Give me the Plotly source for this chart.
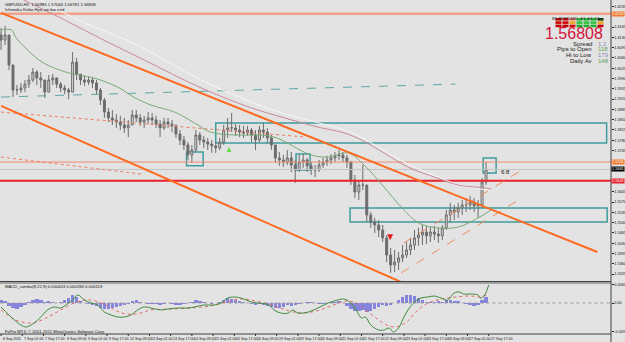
import plotly.graph_objects as go

# ---------------- data ----------------
bar_hours = [3 * k for k in range(123)]
first_open = 1.6138
highs = [1.6162,1.6169,1.6138,1.6036,1.5968,1.5975,1.5985,1.6002,1.6026,1.6019,1.6012,1.5985,1.6002,1.6005,1.5992,1.5978,1.5968,1.5958,1.6080,1.6060,
         1.6005,1.5999,1.5995,1.5992,1.5985,1.5958,1.5924,1.5890,1.5883,1.5869,1.5863,1.5856,1.5849,1.5883,1.5883,1.5869,1.5863,1.5876,1.5873,1.5863,
         1.5849,1.5856,1.5856,1.5849,1.5835,1.5815,1.5795,1.5774,1.5764,1.5815,1.5808,1.5795,1.5788,1.5781,1.5774,1.5788,1.5832,1.5856,1.5873,1.5835,
         1.5832,1.5829,1.5829,1.5822,1.5815,1.5829,1.5839,1.5822,1.5798,1.5764,1.5740,1.5730,1.5747,1.5740,1.5713,1.5730,1.5733,1.5720,1.5706,1.5696,
         1.5713,1.5720,1.5727,1.5733,1.5740,1.5747,1.5740,1.5730,1.5710,1.5662,1.5645,1.5696,1.5628,1.5536,1.5516,1.5509,1.5492,1.5458,1.5414,1.5407,
         1.5400,1.5424,1.5434,1.5448,1.5475,1.5482,1.5492,1.5489,1.5485,1.5489,1.5482,1.5492,1.5543,1.5567,1.5560,1.5567,1.5577,1.5584,1.5591,1.5584,
         1.5577,1.5652,1.5706]
lows = [1.6087,1.6104,1.6019,1.5927,1.5934,1.5941,1.5944,1.5958,1.5978,1.5968,1.5958,1.5924,1.5944,1.5968,1.5958,1.5944,1.5937,1.5920,1.5944,1.5985,
        1.5968,1.5965,1.5968,1.5958,1.5934,1.5900,1.5856,1.5842,1.5832,1.5822,1.5815,1.5805,1.5791,1.5832,1.5842,1.5829,1.5822,1.5835,1.5832,1.5822,
        1.5791,1.5815,1.5822,1.5808,1.5788,1.5764,1.5747,1.5713,1.5703,1.5740,1.5764,1.5754,1.5747,1.5737,1.5737,1.5747,1.5764,1.5788,1.5808,1.5795,
        1.5791,1.5788,1.5795,1.5774,1.5747,1.5774,1.5788,1.5771,1.5747,1.5703,1.5693,1.5689,1.5696,1.5672,1.5635,1.5672,1.5686,1.5672,1.5662,1.5655,
        1.5672,1.5686,1.5693,1.5699,1.5706,1.5713,1.5706,1.5686,1.5628,1.5584,1.5577,1.5611,1.5502,1.5482,1.5465,1.5451,1.5434,1.5366,1.5329,1.5332,
        1.5339,1.5366,1.5380,1.5390,1.5407,1.5421,1.5424,1.5427,1.5434,1.5441,1.5431,1.5441,1.5475,1.5502,1.5509,1.5516,1.5526,1.5536,1.5543,1.5536,
        1.5516,1.5550,1.5628]
closes = [1.6121,1.6138,1.6036,1.5951,1.5951,1.5958,1.5971,1.5985,1.6012,1.5992,1.5985,1.5944,1.5985,1.5992,1.5971,1.5958,1.5951,1.5944,1.6046,1.6005,
          1.5985,1.5978,1.5985,1.5975,1.5951,1.5917,1.5876,1.5856,1.5849,1.5842,1.5832,1.5822,1.5832,1.5866,1.5856,1.5842,1.5849,1.5856,1.5849,1.5835,
          1.5822,1.5842,1.5835,1.5829,1.5801,1.5781,1.5764,1.5730,1.5747,1.5798,1.5781,1.5774,1.5767,1.5761,1.5754,1.5774,1.5815,1.5822,1.5822,1.5815,
          1.5808,1.5805,1.5815,1.5798,1.5781,1.5815,1.5808,1.5788,1.5764,1.5720,1.5713,1.5706,1.5720,1.5696,1.5679,1.5706,1.5713,1.5693,1.5679,1.5679,
          1.5696,1.5706,1.5713,1.5720,1.5727,1.5730,1.5720,1.5706,1.5645,1.5604,1.5628,1.5628,1.5526,1.5502,1.5492,1.5475,1.5448,1.5390,1.5356,1.5366,
          1.5380,1.5390,1.5407,1.5424,1.5448,1.5458,1.5468,1.5455,1.5468,1.5461,1.5455,1.5482,1.5526,1.5543,1.5536,1.5550,1.5560,1.5560,1.5570,1.5557,
          1.5560,1.5638,1.56808]

# moving averages (hours, price)
ma_green_h = [0,8,11,20,32,51,70,88,100,113,131,146,158,176,189,206,234,247,262,274,289,302,315,330,345,360,370]
ma_green_p = [1.6155,1.6155,1.6131,1.6087,1.6043,1.6009,1.5992,1.5961,1.5927,1.5900,1.5876,1.5839,1.5808,1.5798,1.5798,1.5791,1.5730,1.5723,1.5737,1.5696,1.5621,1.5553,1.5499,1.5482,1.5485,1.5516,1.5543]
ma_pink_h = [17,48,76,108,151,189,214,239,259,272,289,307,327,345,365,370]
ma_pink_p = [1.6257,1.6189,1.6124,1.6053,1.5958,1.5890,1.5856,1.5825,1.5805,1.5781,1.5737,1.5689,1.5655,1.5628,1.5618,1.5614]
ma_white_h = [30,60,100,151,189,214,239,259,272,289,307,327,345,365,370]
ma_white_p = [1.6257,1.6185,1.6110,1.5985,1.5910,1.5870,1.5840,1.5815,1.5790,1.5745,1.5700,1.5660,1.5630,1.5612,1.5610]

# trend lines (hours, price)
chan_upper_h = [0, 450];   chan_upper_p = [1.6213, 1.5400]
chan_lower_h = [0, 317];   chan_lower_p = [1.5897, 1.5268]
dot1_h = [0, 230];         dot1_p = [1.5876, 1.5791]
dot2_h = [0, 106];         dot2_p = [1.5723, 1.5665]
teal_h = [0, 343];         teal_p = [1.5927, 1.5971]
rise_lo_h = [302, 393];    rise_lo_p = [1.5329, 1.5584]
rise_hi_h = [304, 393];    rise_hi_p = [1.5431, 1.5679]

# horizontal levels
level_top = 1.6210
level_mid = 1.5706
level_bid = 1.56808
level_red = 1.5642

# zones (h0, h1, p_low, p_high)
zones = [(162, 457, 1.5771, 1.5839), (140, 152.5, 1.5693, 1.5740), (222.6, 233.2, 1.5679, 1.5733),
         (263.4, 457.4, 1.5502, 1.5550), (363.8, 373.6, 1.5669, 1.5720)]

# MACD
macd_h = [0,10,15,19,25,30,35,40,45,51,54,58,63,68,73,78,83,88,93,98,103,108,113,121,126,134,141,146,153,161,166,171,176,181,189,194,202,206,211,217,220,224,232,239,247,254,259,264,268,272,275,279,285,289,293,296,300,303,307,312,317,322,327,332,337,342,346,349,355,360,362,365,368]
macd_v = [-0.0012,-0.0051,-0.0066,-0.0072,-0.0060,-0.0042,-0.0021,-0.0012,-0.0015,0.0,0.0009,0.0024,0.0009,0.0,-0.0006,-0.0027,-0.0036,-0.0042,-0.0042,-0.0036,-0.0021,-0.0012,-0.0015,-0.0021,-0.0018,-0.0015,-0.0015,-0.0012,-0.0006,-0.0006,0.0,0.0015,0.0018,0.0015,0.0003,0.0,-0.0006,-0.0021,-0.0030,-0.0030,-0.0021,-0.0030,-0.0027,-0.0015,0.0,0.0009,0.0012,0.0,-0.0021,-0.0045,-0.0042,-0.0066,-0.0081,-0.0081,-0.0075,-0.0087,-0.0075,-0.0051,-0.0021,0.0003,0.0015,0.0018,0.0021,0.0015,0.0009,0.0030,0.0033,0.0027,0.0027,0.0024,0.0015,0.0024,0.0054]
sig_h = [0,11,23,34,45,57,68,79,91,102,113,128,143,158,170,181,192,204,215,226,238,249,260,268,275,283,291,298,306,313,321,332,343,355,362,368]
sig_v = [-0.0021,-0.0051,-0.0060,-0.0045,-0.0021,0.0003,0.0009,-0.0006,-0.0030,-0.0033,-0.0021,-0.0018,-0.0015,-0.0009,0.0003,0.0012,0.0006,-0.0006,-0.0021,-0.0030,-0.0024,-0.0009,0.0006,0.0,-0.0021,-0.0045,-0.0066,-0.0072,-0.0057,-0.0027,-0.0003,0.0012,0.0018,0.0021,0.0018,0.0027]
hist_v = [0.0009,0.0006,-0.0009,-0.0015,-0.0018,-0.0012,-0.0006,0.0003,0.0009,0.0012,0.0009,0.0003,0.0006,0.0003,0.0,0.0003,0.0009,0.0015,0.0024,0.0018,
          0.0006,0.0,-0.0003,-0.0006,-0.0009,-0.0015,-0.0018,-0.0018,-0.0015,-0.0012,-0.0009,-0.0006,-0.0003,0.0006,0.0009,0.0003,0.0,-0.0003,-0.0003,-0.0003,
          -0.0006,-0.0003,0.0,-0.0003,-0.0006,-0.0006,-0.0003,0.0,0.0003,0.0009,0.0006,0.0003,0.0,-0.0003,0.0,0.0003,0.0009,0.0015,0.0012,0.0009,
          0.0006,0.0003,0.0,-0.0003,-0.0006,-0.0003,-0.0006,-0.0009,-0.0012,-0.0015,-0.0015,-0.0012,-0.0006,-0.0009,-0.0006,-0.0003,0.0,0.0003,0.0003,0.0,
          -0.0003,-0.0003,0.0,0.0003,0.0003,0.0006,0.0,-0.0009,-0.0018,-0.0024,-0.0024,-0.0021,-0.0027,-0.0024,-0.0018,-0.0012,-0.0006,-0.0009,-0.0006,0.0,
          0.0009,0.0018,0.0024,0.0024,0.0021,0.0015,0.0009,0.0003,0.0003,0.0003,0.0006,0.0003,0.0009,0.0009,0.0006,0.0006,0.0,-0.0003,-0.0006,-0.0009,
          -0.0006,0.0009,0.0018]

# axis ticks
x_tick_hours = [16 * k for k in range(24)]
x_tick_text = ["6 Sep 2011","7 Sep 01:00","7 Sep 17:00","8 Sep 09:00","9 Sep 01:00","9 Sep 17:00","12 Sep 09:00","13 Sep 01:00",
               "13 Sep 17:00","14 Sep 09:00","15 Sep 01:00","15 Sep 17:00","16 Sep 09:00","19 Sep 01:00","19 Sep 17:00","20 Sep 09:00",
               "21 Sep 01:00","21 Sep 17:00","22 Sep 09:00","23 Sep 01:00","23 Sep 17:00","26 Sep 09:00","27 Sep 01:00","27 Sep 17:00"]
y_tick_vals = [1.5325,1.5360,1.5395,1.5430,1.5465,1.5500,1.5535,1.5570,1.5605,1.5745,1.5780,
               1.5815,1.5850,1.5885,1.5920,1.5955,1.5990,1.6025,1.6060,1.6095,1.6130,1.6165,1.6235]
macd_tick_vals = [0.0056, 0.0, -0.0086]
macd_tick_text = ["0.0061", "0.00", "-0.009"]

# info panel
tf_labels = ["M1", "M5", "M15", "M30", "H1", "H4", "D1"]
signal_rows = [["#b00000", "#e01010", "#f08070", "#20b030", "#20b030", "#20b030", "#0a3a0a"],
               ["#d00000", "#d00000", "#f0a020", "#30c040", "#30c040", "#30c040", "#f0a020"],
               ["#c00000", "#c00000", "#d01010", "#20b030", "#20b030", "#20b030", "#c00000"]]
info_labels = ["Spread", "Pips to Open", "Hi to Low", "Daily Av"]
info_values = ["1.2", "118", "179", "148"]
info_colors = ["#8a8ab8", "#5aa05a", "#8a8ab8", "#5aa05a"]

BG = "#e3e3e3"
FONT = "Liberation Sans"
PW = 611.0
PH = 342.0

def px(x):
    return x / PW

def py(y):
    return 1 - y / PH

fig = go.Figure()

# horizontal levels
for lv, col, wd in [(level_top, "#f2a088", 2.5), (level_mid, "#f08a70", 1), (level_bid, "#c4c4c4", 1), (level_red, "#e8222a", 2)]:
    fig.add_trace(go.Scatter(x=[-5, 470], y=[lv, lv], mode="lines", line=dict(color=col, width=wd), hoverinfo="skip"))

# zones
for h0, h1, p0, p1 in zones:
    fig.add_shape(type="rect", xref="x", yref="y", x0=h0, x1=h1, y0=p0, y1=p1,
                  line=dict(color="#3f9c9c", width=1.5), fillcolor="rgba(0,0,0,0)", layer="below")

# dotted / dashed
fig.add_trace(go.Scatter(x=dot1_h, y=dot1_p, mode="lines", line=dict(color="#f07a60", width=1, dash="dot")))
fig.add_trace(go.Scatter(x=dot2_h, y=dot2_p, mode="lines", line=dict(color="#f07a60", width=1, dash="dot")))
fig.add_trace(go.Scatter(x=teal_h, y=teal_p, mode="lines", line=dict(color="#5fa6a6", width=1, dash="dash")))
fig.add_trace(go.Scatter(x=rise_lo_h, y=rise_lo_p, mode="lines", line=dict(color="#f08a60", width=1, dash="dash")))
fig.add_trace(go.Scatter(x=rise_hi_h, y=rise_hi_p, mode="lines", line=dict(color="#f08a60", width=1, dash="dash")))

# moving averages
fig.add_trace(go.Scatter(x=ma_white_h, y=ma_white_p, mode="lines", line=dict(color="#f6f6f6", width=1, shape="spline")))
fig.add_trace(go.Scatter(x=ma_pink_h, y=ma_pink_p, mode="lines", line=dict(color="#c98a9a", width=1, shape="spline")))
fig.add_trace(go.Scatter(x=ma_green_h, y=ma_green_p, mode="lines", line=dict(color="#7aab78", width=1, shape="spline")))

# channel
fig.add_trace(go.Scatter(x=chan_upper_h, y=chan_upper_p, mode="lines", line=dict(color="#ff6a20", width=2)))
fig.add_trace(go.Scatter(x=chan_lower_h, y=chan_lower_p, mode="lines", line=dict(color="#ff6a20", width=2)))

# price
opens = [first_open] + closes[:-1]
fig.add_trace(go.Candlestick(x=bar_hours, open=opens, high=highs, low=lows, close=closes,
                             increasing=dict(line=dict(color="#6c6c6c", width=1), fillcolor="#d8d8d8"),
                             decreasing=dict(line=dict(color="#6c6c6c", width=1), fillcolor="#6c6c6c"),
                             whiskerwidth=0, hoverinfo="skip"))

# markers
fig.add_trace(go.Scatter(x=[293.6], y=[1.5440], mode="markers", marker=dict(symbol="arrow-down", color="#e02020", size=6)))
fig.add_trace(go.Scatter(x=[172], y=[1.5757], mode="markers", marker=dict(symbol="arrow-up", color="#66dd44", size=5)))

# MACD pane
fig.add_trace(go.Scatter(x=[-5, 470], y=[0, 0], mode="lines", line=dict(color="#9a9a9a", width=1, dash="dot"), yaxis="y2"))
fig.add_trace(go.Bar(x=bar_hours, y=hist_v, width=2.6, marker=dict(color="#8585dd", line=dict(width=0)), yaxis="y2"))
fig.add_trace(go.Scatter(x=sig_h, y=sig_v, mode="lines", line=dict(color="#e06a6a", width=1, dash="dot", shape="spline"), yaxis="y2"))
fig.add_trace(go.Scatter(x=macd_h, y=macd_v, mode="lines", line=dict(color="#3e8a3e", width=1, shape="spline"), yaxis="y2"))

axfont = dict(family=FONT, size=3.8, color="#101010")
fig.update_layout(
    width=625, height=342, margin=dict(l=0, r=14, t=0, b=0),
    paper_bgcolor=BG, plot_bgcolor=BG, showlegend=False, bargap=0,
    xaxis=dict(range=[-0.8, 460.3], domain=[0, 1], showgrid=False, zeroline=False, showticklabels=False,
               ticks="", showline=False, rangeslider=dict(visible=False), fixedrange=True),
    yaxis=dict(domain=[1 - 281 / PH, 1], range=[1.53015, 1.6257], side="right", showgrid=False, zeroline=False,
               tickvals=y_tick_vals, ticktext=[f"{v:.4f}" for v in y_tick_vals], tickfont=axfont,
               ticks="outside", ticklen=1.5, tickcolor="#202020", automargin=False, showline=False),
    yaxis2=dict(domain=[1 - 334 / PH, 1 - 283 / PH], range=[-0.0093, 0.0060], side="right", anchor="x",
                showgrid=False, zeroline=False, tickvals=macd_tick_vals, ticktext=macd_tick_text, tickfont=axfont,
                ticks="outside", ticklen=1.5, tickcolor="#202020", automargin=False, showline=False),
)

# frame lines
for (x0, y0, x1, y1, c, w) in [(PW, 0, PW, 342, "#404040", 1), (0, 281.5, PW, 281.5, "#404040", 1),
                                (0, 283, PW, 283, "#606060", 1), (0, 334, PW, 334, "#404040", 1)]:
    fig.add_shape(type="line", xref="paper", yref="paper", x0=px(x0), x1=px(x1), y0=py(y0), y1=py(y1),
                  line=dict(color=c, width=w))

# x labels
for h, t in zip(x_tick_hours, x_tick_text):
    fig.add_annotation(x=h, y=py(338.5), xref="x", yref="paper", text=t, showarrow=False, xanchor="left",
                       yanchor="middle", font=dict(family=FONT, size=3.6, color="#101010"))
    fig.add_shape(type="line", xref="x", yref="paper", x0=h, x1=h, y0=py(334), y1=py(336),
                  line=dict(color="#303030", width=1))

# axis price boxes
for lv, bg in [(level_top, "#f07a30"), (level_mid, "#f07a30"), (level_bid, "#000000"), (level_red, "#e8222a")]:
    fig.add_annotation(x=1.0, y=lv, xref="paper", yref="y", text=f"{lv:.4f}", showarrow=False, xanchor="left",
                       yanchor="middle", bgcolor=bg, borderpad=0, font=dict(family=FONT, size=3.8, color="#ffffff"))

# text overlays
fig.add_annotation(x=px(3), y=py(4), xref="paper", yref="paper", text="GBPUSD,H1  1.56983 1.57046 1.56781 1.56808",
                   showarrow=False, xanchor="left", yanchor="middle", font=dict(family=FONT, size=4.2, color="#101010"))
fig.add_annotation(x=px(3), y=py(9.5), xref="paper", yref="paper", text="Ichimoku Kinko Hyo, on bar end",
                   showarrow=False, xanchor="left", yanchor="middle", font=dict(family=FONT, size=4.2, color="#101010"))
fig.add_annotation(x=px(3), y=py(286.5), xref="paper", yref="paper", text="MACD_combo(8,22,9) 0.000403 0.000284 0.000119",
                   showarrow=False, xanchor="left", yanchor="middle", font=dict(family=FONT, size=4.2, color="#101010"))
fig.add_annotation(x=px(3), y=py(331), xref="paper", yref="paper", text="FxPro MT4, © 2001-2011 MetaQuotes Software Corp.",
                   showarrow=False, xanchor="left", yanchor="middle", font=dict(family=FONT, size=4.2, color="#101010"))
fig.add_annotation(x=376, y=1.5672, xref="x", yref="y", text="6:8", showarrow=False, xanchor="left",
                   yanchor="middle", font=dict(family=FONT, size=6, color="#202020"))

# signal table
for j, lab in enumerate(tf_labels):
    fig.add_annotation(x=px(558.5 + 7 * j), y=py(15.5), xref="paper", yref="paper", text=lab, showarrow=False,
                       font=dict(family=FONT, size=3.3, color="#101010"))
for i, row in enumerate(signal_rows):
    for j, col in enumerate(row):
        fig.add_shape(type="rect", xref="paper", yref="paper", x0=px(555.5 + 7 * j), x1=px(561.5 + 7 * j),
                      y0=py(18 + 3.3 * i), y1=py(20.6 + 3.3 * i), fillcolor=col, line=dict(width=0))

fig.add_annotation(x=px(605), y=py(33.5), xref="paper", yref="paper", text=f"{level_bid:.5f}", showarrow=False,
                   xanchor="right", yanchor="middle", font=dict(family=FONT, size=16, color="#d4143c"))
for i, (lab, val, col) in enumerate(zip(info_labels, info_values, info_colors)):
    yy = py(43.5 + 5.8 * i)
    fig.add_annotation(x=px(593.5), y=yy, xref="paper", yref="paper", text=lab, showarrow=False, xanchor="right",
                       yanchor="middle", font=dict(family=FONT, size=6, color="#202020"))
    fig.add_annotation(x=px(596), y=yy, xref="paper", yref="paper", text=val, showarrow=False, xanchor="left",
                       yanchor="middle", font=dict(family=FONT, size=6, color=col))

fig.write_html("out.html")
